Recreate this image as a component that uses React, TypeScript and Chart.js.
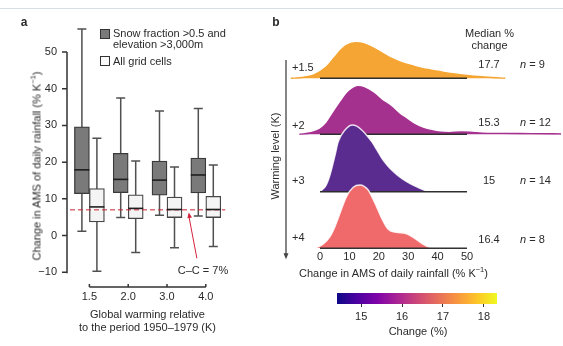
import React, { useEffect, useRef } from "react";
import { Chart, registerables } from "chart.js";

Chart.register(...registerables);

const FONT = '"Liberation Sans", Arial, Helvetica, sans-serif';
const TEXT = "#2a2a2a";

// ---------- Panel a data ----------
const WARMING_CATEGORIES = ["1.5", "2.0", "3.0", "4.0"];
const SNOW_MIN = [1.2, 4.9, 5.5, 5.3];
const SNOW_Q1 = [11.4, 11.7, 11.0, 11.6];
const SNOW_MEDIAN = [17.9, 15.3, 15.1, 16.5];
const SNOW_Q3 = [29.6, 22.4, 20.3, 21.1];
const SNOW_MAX = [56.3, 37.5, 33.9, 34.6];
const ALL_MIN = [-9.7, -4.6, -3.3, -3.0];
const ALL_Q1 = [3.7, 4.6, 4.9, 4.9];
const ALL_MEDIAN = [7.8, 7.4, 7.1, 7.1];
const ALL_Q3 = [12.8, 11.1, 10.5, 10.7];
const ALL_MAX = [26.5, 20.3, 18.7, 19.2];
const Y_TICKS_A = [-10, 0, 10, 20, 30, 40, 50];
const CC_RATE = 7;

// ---------- Panel b data ----------
const RIDGE_LABELS = ["+1.5", "+2", "+3", "+4"];
const RIDGE_MEDIANS = ["17.7", "15.3", "15", "16.4"];
const RIDGE_N = [9, 12, 14, 8];
const RIDGE_OFFSETS = [170, 114, 56.6, 0];
const RIDGE_COLORS = ["#f5a533", "#a5318f", "#5b2c8f", "#f06a6b"];

const RIDGE_X_15 = [-10, -6, -2, 2, 5, 7, 9, 12, 15, 18, 21, 24, 28, 32, 36, 40, 45, 50, 55, 60, 63];
const RIDGE_D_15 = [0, 0.8, 3.5, 11, 21, 28, 33, 35.6, 34.5, 30.5, 25.5, 20.5, 15.5, 12, 9, 7, 4.5, 2.8, 1.5, 0.5, 0];
const RIDGE_X_2 = [-7, -3, 0, 2, 4.5, 8, 10, 13, 15, 18, 21, 24, 27, 29.5, 32, 35, 38, 41, 44, 48, 51, 55, 62, 72, 83];
const RIDGE_D_2 = [0, 1.5, 5, 10, 21, 36, 43, 47.6, 46.5, 41.5, 34, 28, 20, 15, 10, 6, 3.5, 2, 1.7, 2.3, 2.1, 1.2, 0.9, 0.7, 0.4];
const RIDGE_X_3 = [0, 2, 3.4, 5, 6.2, 8.5, 11, 12.5, 14.2, 16, 17.6, 19.5, 21, 23, 25, 27, 29.5, 32, 34, 36.7];
const RIDGE_D_3 = [0, 6, 16.7, 35, 50, 61.7, 66.7, 65.5, 61.7, 56, 50, 41, 33.7, 26, 20, 15, 10, 6, 3.4, 0];
const RIDGE_X_4 = [-1.7, 1, 3.4, 5, 6.8, 9, 11.3, 13.6, 15, 16.4, 18.7, 21, 23.2, 26, 28.9, 31.7, 34.6, 36.8, 39];
const RIDGE_D_4 = [0, 4, 11.6, 21, 35, 51.6, 61, 63.3, 62, 58.3, 45, 30, 19, 16, 15, 11, 5, 1.5, 0];
const X_TICKS_B = [0, 10, 20, 30, 40, 50];
const AXIS_RANGE_B = [0, 50];

// ---------- Colour bar ----------
const COLORBAR_RANGE = [14.41, 18.32];
const COLORBAR_TICKS = [15, 16, 17, 18];
const PLASMA = ["#0d0887", "#4c02a1", "#7e03a8", "#a92395", "#cc4778", "#e66c5c", "#f89540", "#fdc527", "#f0f921"];

const tickFont = { size: 11, family: FONT };

const boxPlugin = {
  id: "boxExtras",
  beforeDatasetsDraw(chart: any) {
    const { ctx } = chart;
    const y = chart.scales.y;
    const sets = [
      [SNOW_MIN, SNOW_MAX],
      [ALL_MIN, ALL_MAX],
    ];
    sets.forEach((s, di) => {
      chart.getDatasetMeta(di).data.forEach((el: any, i: number) => {
        const x = el.x;
        const top = y.getPixelForValue(s[1][i]);
        const bot = y.getPixelForValue(s[0][i]);
        ctx.save();
        ctx.strokeStyle = "#505050";
        ctx.lineWidth = 1.5;
        ctx.beginPath();
        ctx.moveTo(x, top);
        ctx.lineTo(x, bot);
        ctx.moveTo(x - 4.5, top);
        ctx.lineTo(x + 4.5, top);
        ctx.moveTo(x - 4.5, bot);
        ctx.lineTo(x + 4.5, bot);
        ctx.stroke();
        ctx.restore();
      });
    });
  },
  afterDatasetsDraw(chart: any) {
    const { ctx, chartArea } = chart;
    const x = chart.scales.x;
    const y = chart.scales.y;
    ctx.save();
    // C-C dashed line
    const yc = y.getPixelForValue(CC_RATE);
    ctx.strokeStyle = "#c8202f";
    ctx.lineWidth = 1;
    ctx.setLineDash([5, 3]);
    ctx.beginPath();
    ctx.moveTo(chartArea.left, yc);
    ctx.lineTo(chartArea.right, yc);
    ctx.stroke();
    ctx.setLineDash([]);
    // medians
    [SNOW_MEDIAN, ALL_MEDIAN].forEach((med, di) => {
      chart.getDatasetMeta(di).data.forEach((el: any, i: number) => {
        const py = y.getPixelForValue(med[i]);
        ctx.strokeStyle = "#1e1e1e";
        ctx.lineWidth = 1.6;
        ctx.beginPath();
        ctx.moveTo(el.x - el.width / 2, py);
        ctx.lineTo(el.x + el.width / 2, py);
        ctx.stroke();
      });
    });
    // arrow
    const tipX = x.getPixelForValue(2.56);
    const tipY = y.getPixelForValue(6.3);
    const tailX = x.getPixelForValue(2.77);
    const tailY = y.getPixelForValue(-6.2);
    ctx.strokeStyle = "#d6213a";
    ctx.fillStyle = "#d6213a";
    ctx.lineWidth = 1;
    ctx.beginPath();
    ctx.moveTo(tailX, tailY);
    ctx.lineTo(tipX, tipY + 3);
    ctx.stroke();
    const ang = Math.atan2(tipY - tailY, tipX - tailX);
    ctx.beginPath();
    ctx.moveTo(tipX, tipY);
    ctx.lineTo(tipX - 6 * Math.cos(ang - 0.4), tipY - 6 * Math.sin(ang - 0.4));
    ctx.lineTo(tipX - 6 * Math.cos(ang + 0.4), tipY - 6 * Math.sin(ang + 0.4));
    ctx.closePath();
    ctx.fill();
    // y axis line
    ctx.strokeStyle = "#333";
    ctx.lineWidth = 1.5;
    const ax = chartArea.left - 3;
    ctx.beginPath();
    ctx.moveTo(ax, y.getPixelForValue(Y_TICKS_A[Y_TICKS_A.length - 1]));
    ctx.lineTo(ax, y.getPixelForValue(Y_TICKS_A[0]) + 1);
    Y_TICKS_A.forEach((v) => {
      const py = y.getPixelForValue(v);
      ctx.moveTo(ax - 5, py);
      ctx.lineTo(ax, py);
    });
    ctx.stroke();
    // x axis line
    const yb = chartArea.bottom + 7.4;
    ctx.beginPath();
    ctx.moveTo(x.getPixelForValue(0), yb);
    ctx.lineTo(x.getPixelForValue(WARMING_CATEGORIES.length - 1), yb);
    WARMING_CATEGORIES.forEach((_, i) => {
      const px = x.getPixelForValue(i);
      ctx.moveTo(px, yb);
      ctx.lineTo(px, yb - 3);
    });
    ctx.stroke();
    ctx.restore();
  },
};

const ridgePlugin = {
  id: "ridgeExtras",
  afterDatasetsDraw(chart: any) {
    const { ctx, chartArea } = chart;
    const x = chart.scales.x;
    const y = chart.scales.y;
    ctx.save();
    ctx.strokeStyle = "#333";
    ctx.lineWidth = 1.5;
    const yb = y.getPixelForValue(0);
    ctx.beginPath();
    ctx.moveTo(x.getPixelForValue(AXIS_RANGE_B[0]), yb);
    ctx.lineTo(x.getPixelForValue(AXIS_RANGE_B[1]), yb);
    ctx.stroke();
    // warming level arrow
    const ax = chartArea.left - 4.6;
    const top = chartArea.top + 30;
    const bot = chartArea.bottom + 11;
    ctx.strokeStyle = "#444";
    ctx.lineWidth = 1.3;
    ctx.beginPath();
    ctx.moveTo(ax, top);
    ctx.lineTo(ax, bot - 4);
    ctx.stroke();
    ctx.fillStyle = "#444";
    ctx.beginPath();
    ctx.moveTo(ax, bot);
    ctx.lineTo(ax - 2.5, bot - 6);
    ctx.lineTo(ax + 2.5, bot - 6);
    ctx.closePath();
    ctx.fill();
    ctx.restore();
  },
};

function ridgeDataset(xs: number[], ds: number[], idx: number, outline: string) {
  const off = RIDGE_OFFSETS[idx];
  return {
    data: xs.map((v, i) => ({ x: v, y: off + ds[i] })),
    backgroundColor: RIDGE_COLORS[idx],
    borderColor: outline,
    borderWidth: 1.4,
    fill: { value: off },
    cubicInterpolationMode: "monotone",
    pointRadius: 0,
  };
}

function baselineDataset(idx: number) {
  const off = RIDGE_OFFSETS[idx];
  return {
    data: AXIS_RANGE_B.map((v) => ({ x: v, y: off })),
    borderColor: "#2e2e2e",
    borderWidth: 1.5,
    fill: false,
    pointRadius: 0,
  };
}

function Label(props: any) {
  const { x, y, align = "center", rotate = false, style = {}, children } = props;
  const tx = align === "center" ? "-50%" : align === "left" ? "0" : "-100%";
  return (
    <div
      style={{
        position: "absolute",
        left: x,
        top: y,
        transform: `translate(${tx},-50%)${rotate ? " rotate(-90deg)" : ""}`,
        whiteSpace: "nowrap",
        font: `11px ${FONT}`,
        lineHeight: "13px",
        color: TEXT,
        ...style,
      }}
    >
      {children}
    </div>
  );
}

const sup = { fontSize: 7.5, verticalAlign: "super", lineHeight: 0 };

export default function App() {
  const refA = useRef<HTMLCanvasElement>(null);
  const refB = useRef<HTMLCanvasElement>(null);
  const refC = useRef<HTMLCanvasElement>(null);

  useEffect(() => {
    document.body.style.margin = "0";
    Chart.defaults.font.family = FONT;
    Chart.defaults.color = TEXT;

    const chartA = new Chart(refA.current as HTMLCanvasElement, {
      type: "bar",
      data: {
        labels: WARMING_CATEGORIES,
        datasets: [
          {
            data: SNOW_Q1.map((q, i) => [q, SNOW_Q3[i]]),
            backgroundColor: "#7a7a7a",
            borderColor: "#3a3a3a",
            borderWidth: 1.3,
            borderSkipped: false,
            barThickness: 15,
          } as any,
          {
            data: ALL_Q1.map((q, i) => [q, ALL_Q3[i]]),
            backgroundColor: "#f4f4f4",
            borderColor: "#474747",
            borderWidth: 1.3,
            borderSkipped: false,
            barThickness: 15,
          } as any,
        ],
      },
      options: {
        animation: false,
        responsive: false,
        maintainAspectRatio: false,
        layout: { padding: { left: 0, right: 54.8, top: 15.3, bottom: 0 } },
        plugins: { legend: { display: false }, tooltip: { enabled: false } },
        scales: {
          x: {
            grid: { display: true, drawOnChartArea: false, drawTicks: true, tickLength: 8, color: "rgba(0,0,0,0)" },
            border: { display: false },
            ticks: { padding: 2.5, color: TEXT, font: tickFont },
            afterFit: (s: any) => {
              s.height = 66.4;
            },
          },
          y: {
            min: -12,
            max: 60,
            grid: { display: true, drawOnChartArea: false, drawTicks: true, tickLength: 10, color: "rgba(0,0,0,0)" },
            border: { display: false },
            ticks: {
              padding: 3,
              color: TEXT,
              font: tickFont,
              callback: (v: any) => (v < 0 ? "\u2212" + Math.abs(v) : String(v)),
            },
            afterBuildTicks: (s: any) => {
              s.ticks = Y_TICKS_A.map((v) => ({ value: v }));
            },
            afterFit: (s: any) => {
              s.width = 70;
            },
          },
        },
      } as any,
      plugins: [boxPlugin],
    });

    const chartB = new Chart(refB.current as HTMLCanvasElement, {
      type: "line",
      data: {
        datasets: [
          ridgeDataset(RIDGE_X_4, RIDGE_D_4, 3, "rgba(255,255,255,0.85)"),
          baselineDataset(2),
          ridgeDataset(RIDGE_X_3, RIDGE_D_3, 2, "rgba(255,255,255,0.85)"),
          baselineDataset(1),
          ridgeDataset(RIDGE_X_2, RIDGE_D_2, 1, RIDGE_COLORS[1]),
          baselineDataset(0),
          ridgeDataset(RIDGE_X_15, RIDGE_D_15, 0, RIDGE_COLORS[0]),
        ] as any,
      },
      options: {
        animation: false,
        responsive: false,
        maintainAspectRatio: false,
        layout: { padding: { left: 30.6, right: 1.9, top: 30, bottom: 0 } },
        plugins: { legend: { display: false }, tooltip: { enabled: false } },
        scales: {
          x: {
            type: "linear",
            min: -10,
            max: 82,
            grid: { display: true, drawOnChartArea: false, drawTicks: false, color: "rgba(0,0,0,0)" },
            border: { display: false },
            ticks: { padding: 2.1, color: TEXT, font: tickFont },
            afterBuildTicks: (s: any) => {
              s.ticks = X_TICKS_B.map((v) => ({ value: v }));
            },
            afterFit: (s: any) => {
              s.height = 97.7;
            },
          },
          y: { type: "linear", min: 0, max: 218.3, display: false },
        },
      } as any,
      plugins: [ridgePlugin],
    });

    const chartC = new Chart(refC.current as HTMLCanvasElement, {
      type: "bar",
      data: {
        labels: ["Change"],
        datasets: [
          {
            data: [COLORBAR_RANGE],
            borderWidth: 0,
            categoryPercentage: 1,
            barPercentage: 1,
            backgroundColor: (c: any) => {
              const ca = c.chart.chartArea;
              if (!ca) return PLASMA[4];
              const g = c.chart.ctx.createLinearGradient(ca.left, 0, ca.right, 0);
              PLASMA.forEach((col, i) => g.addColorStop(i / (PLASMA.length - 1), col));
              return g;
            },
          } as any,
        ],
      },
      options: {
        indexAxis: "y",
        animation: false,
        responsive: false,
        maintainAspectRatio: false,
        layout: { padding: { left: 10, right: 20, top: 13, bottom: 0 } },
        plugins: { legend: { display: false }, tooltip: { enabled: false } },
        scales: {
          x: {
            type: "linear",
            min: COLORBAR_RANGE[0],
            max: COLORBAR_RANGE[1],
            grid: { display: true, drawOnChartArea: false, drawTicks: true, tickLength: 3, color: "#333", lineWidth: 1 },
            border: { display: false },
            ticks: { padding: 3.4, color: TEXT, font: tickFont },
            afterBuildTicks: (s: any) => {
              s.ticks = COLORBAR_TICKS.map((v) => ({ value: v }));
            },
            afterFit: (s: any) => {
              s.height = 26;
            },
          },
          y: { display: false },
        },
      } as any,
    });

    return () => {
      chartA.destroy();
      chartB.destroy();
      chartC.destroy();
    };
  }, []);

  const rowY = [64, 121.5, 180, 238.5];
  const rowLabelY = [66.5, 125, 180, 236.5];

  return (
    <div style={{ position: "relative", width: 563, height: 346, background: "#fff", overflow: "hidden", fontFamily: FONT }}>
      <div style={{ position: "absolute", left: 0, top: 8, width: 563, height: 1, background: "#d9dee4" }} />
      <canvas ref={refA} width={280} height={346} style={{ position: "absolute", left: 0, top: 0, width: 280, height: 346 }} />
      <canvas ref={refB} width={303} height={346} style={{ position: "absolute", left: 260, top: 0, width: 303, height: 346 }} />
      <canvas ref={refC} width={190} height={50} style={{ position: "absolute", left: 327, top: 280, width: 190, height: 50 }} />

      {/* panel a annotations */}
      <Label x={24} y={22} style={{ fontWeight: "bold", fontSize: 12 }}>a</Label>
      <div style={{ position: "absolute", left: 100, top: 28.5, width: 8, height: 8, background: "#7a7a7a", border: "1px solid #333" }} />
      <Label x={113} y={33} align="left">Snow fraction &gt;0.5 and</Label>
      <Label x={113} y={44} align="left">elevation &gt;3,000m</Label>
      <div style={{ position: "absolute", left: 100, top: 56, width: 8, height: 8, background: "#fafafa", border: "1px solid #333" }} />
      <Label x={113} y={60.5} align="left">All grid cells</Label>
      <Label x={37} y={166} rotate>
        Change in AMS of daily rainfall (% K<span style={sup}>−1</span>)
      </Label>
      <Label x={203} y={270}>C–C = 7%</Label>
      <Label x={147.5} y={314}>Global warming relative</Label>
      <Label x={147.5} y={327}>to the period 1950–1979 (K)</Label>

      {/* panel b annotations */}
      <Label x={276} y={22} style={{ fontWeight: "bold", fontSize: 12 }}>b</Label>
      <Label x={489.5} y={33}>Median %</Label>
      <Label x={489.5} y={44.5}>change</Label>
      {RIDGE_LABELS.map((l, i) => (
        <Label key={"l" + i} x={292} y={rowLabelY[i]} align="left">{l}</Label>
      ))}
      {RIDGE_MEDIANS.map((m, i) => (
        <Label key={"m" + i} x={489} y={rowY[i]}>{m}</Label>
      ))}
      {RIDGE_N.map((n, i) => (
        <Label key={"n" + i} x={520} y={rowY[i]} align="left">
          <i>n</i> = {n}
        </Label>
      ))}
      <Label x={275} y={156} rotate>Warming level (K)</Label>
      <Label x={393.5} y={273}>
        Change in AMS of daily rainfall (% K<span style={sup}>−1</span>)
      </Label>
      <Label x={418} y={331}>Change (%)</Label>
    </div>
  );
}
